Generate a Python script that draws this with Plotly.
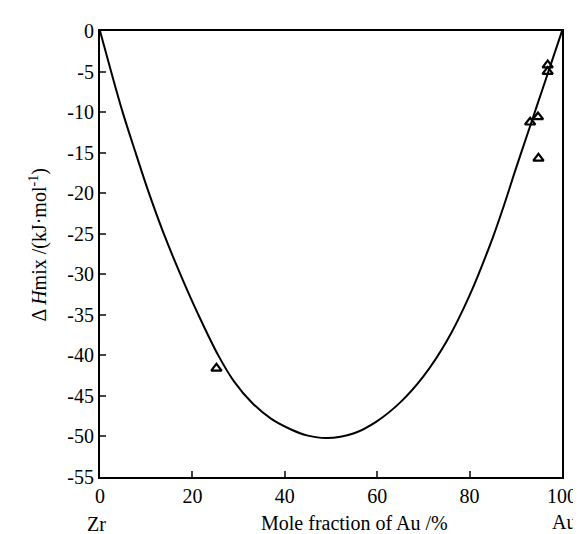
import plotly.graph_objects as go

# Model curve
curve_x = [0, 2.4, 4.9, 7.7, 10.6, 13.8, 17.4, 21.3, 25.6, 29, 33, 37, 41.6, 45, 49,
           55, 60, 65, 70, 75, 80, 85, 87.5, 90, 93, 95, 97, 100]
curve_y = [0, -5, -10, -15, -20, -25, -30, -35, -40, -43.2, -45.9, -47.8, -49.2, -49.9, -50.2,
           -49.6, -48.1, -45.8, -42.6, -38.3, -32.6, -25.5, -21.4, -17.0, -11.9, -8.5, -5.1, 0]

# Experimental points (triangles)
exp_x = [25.2, 93.1, 94.8, 94.9, 96.9, 96.9]
exp_y = [-41.6, -11.25, -10.6, -15.7, -4.2, -5.0]

x_ticks = [0, 20, 40, 60, 80, 100]
y_ticks = [0, -5, -10, -15, -20, -25, -30, -35, -40, -45, -50, -55]
y_ticktext = [str(v) if v == 0 else "-" + str(-v) for v in y_ticks]

FONT = "Liberation Serif"

fig = go.Figure()
fig.add_trace(go.Scatter(x=curve_x, y=curve_y, mode="lines",
                         line=dict(color="black", width=2, shape="spline", smoothing=1.0),
                         showlegend=False, hoverinfo="skip"))
fig.add_trace(go.Scatter(x=exp_x, y=exp_y, mode="markers",
                         marker=dict(symbol="triangle-up-open", size=9, color="black",
                                     line=dict(width=2.2, color="black")),
                         showlegend=False))

fig.update_layout(
    width=581, height=534,
    margin=dict(l=92, r=27, t=20, b=65),
    paper_bgcolor="white", plot_bgcolor="white",
    font=dict(family=FONT, size=20, color="black"),
    xaxis=dict(range=[0, 100], tickvals=x_ticks, ticks="inside", ticklen=6, tickwidth=1.5,
               showline=True, linecolor="black", linewidth=2, mirror=True,
               showgrid=False, zeroline=False, tickfont=dict(family=FONT, size=20)),
    yaxis=dict(range=[-55, 0], tickvals=y_ticks, ticktext=y_ticktext, ticks="inside",
               ticklen=6, tickwidth=1.5, showline=True, linecolor="black", linewidth=2,
               mirror=True, showgrid=False, zeroline=False,
               tickfont=dict(family=FONT, size=20)),
    annotations=[
        dict(text="Δ <i>H</i>mix /(kJ·mol<sup>-1</sup>)", xref="paper", yref="paper",
             x=-0.134, y=0.519, xanchor="center", yanchor="middle", textangle=-90,
             showarrow=False, font=dict(family=FONT, size=20)),
        dict(text="Mole fraction of Au /%", xref="paper", yref="paper",
             x=0.55, y=-0.103, xanchor="center", yanchor="middle",
             showarrow=False, font=dict(family=FONT, size=20)),
        dict(text="Zr", xref="paper", yref="paper", x=-0.0065, y=-0.1047,
             xanchor="center", yanchor="middle", showarrow=False,
             font=dict(family=FONT, size=20)),
        dict(text="Au", xref="paper", yref="paper", x=1.004, y=-0.100,
             xanchor="center", yanchor="middle", showarrow=False,
             font=dict(family=FONT, size=20)),
    ],
)

fig.write_html("out.html")
